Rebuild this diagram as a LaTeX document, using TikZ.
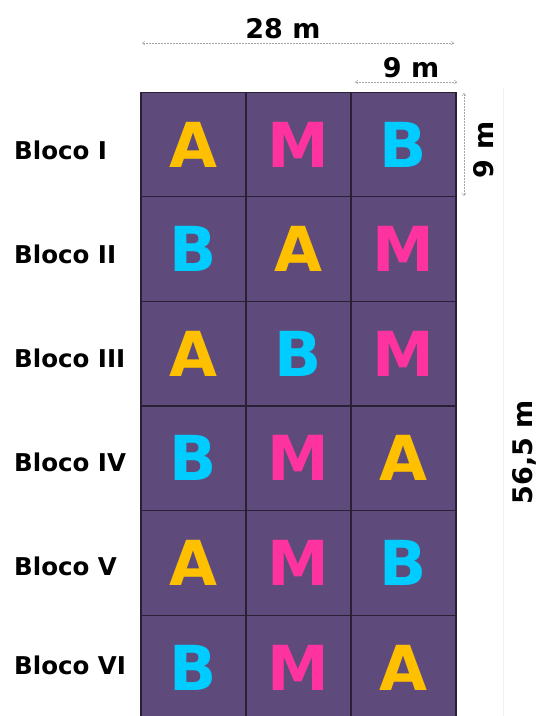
\documentclass[tikz,border=0pt]{standalone}
\usepackage{fontspec}
\setmainfont{DejaVu Sans}
\newfontfamily\boldfont{DejaVu Sans Bold}
\usetikzlibrary{arrows.meta}
\definecolor{plotbg}{HTML}{5F4B7B}
\definecolor{gridline}{HTML}{2A2036}
\definecolor{letA}{HTML}{FFC000}
\definecolor{letM}{HTML}{FF33A0}
\definecolor{letB}{HTML}{00CCFF}
\newcommand\plotlet[3]{%
  \node[bigletter,text=#3] (l-#1) at (#1) {#2};}
\begin{document}
\begin{tikzpicture}[x=1pt,y=-1pt,
  cell/.style={draw=gridline,line width=1.3pt,fill=plotbg,minimum width=105pt,minimum height=104.6pt,inner sep=0pt},
  bigletter/.style={font=\boldfont\fontsize{62}{62}\selectfont,inner sep=0pt},
  blocklabel/.style={font=\boldfont\fontsize{24.5}{24.5}\selectfont,anchor=west,inner sep=0pt},
  dimtext/.style={font=\boldfont\fontsize{27}{27}\selectfont,inner sep=0pt},
  dimline/.style={gray!70,line width=0.5pt,densely dotted,{Straight Barb[length=2.5pt,width=4pt]}-{Straight Barb[length=2.5pt,width=4pt]}},
  faint/.style={gray!12,line width=0.8pt}]
\useasboundingbox (0,0) rectangle (540,716);
\clip (0,0) rectangle (540,716);
% cells
\foreach \r/\y in {1/144.5,2/249.1,3/353.7,4/458.3,5/562.9,6/667.5}{
  \foreach \c/\x in {1/193.5,2/298.5,3/403.5}{
    \node[cell] (c\r\c) at (\x,\y) {};
  }
}
% letters
\plotlet{c11}{A}{letA}\plotlet{c12}{M}{letM}\plotlet{c13}{B}{letB}
\plotlet{c21}{B}{letB}\plotlet{c22}{A}{letA}\plotlet{c23}{M}{letM}
\plotlet{c31}{A}{letA}\plotlet{c32}{B}{letB}\plotlet{c33}{M}{letM}
\plotlet{c41}{B}{letB}\plotlet{c42}{M}{letM}\plotlet{c43}{A}{letA}
\plotlet{c51}{A}{letA}\plotlet{c52}{M}{letM}\plotlet{c53}{B}{letB}
\plotlet{c61}{B}{letB}\plotlet{c62}{M}{letM}\plotlet{c63}{A}{letA}
% block labels
\node[blocklabel] (b1) at (14,150) {Bloco I};
\node[blocklabel] (b2) at (14,254) {Bloco II};
\node[blocklabel] (b3) at (14,358) {Bloco III};
\node[blocklabel] (b4) at (14,462) {Bloco IV};
\node[blocklabel] (b5) at (14,566) {Bloco V};
\node[blocklabel] (b6) at (14,665) {Bloco VI};
% dimension 28 m
\coordinate (w1) at (142,43);
\coordinate (w2) at (454,43);
\draw[dimline] (w1) -- (w2);
\node[dimtext] (t28) at (283,29) {28 m};
% dimension 9 m horizontal
\coordinate (h1) at (355,82);
\coordinate (h2) at (457,82);
\draw[dimline] (h1) -- (h2);
\node[dimtext] (t9h) at (411,68) {9 m};
% dimension 9 m vertical
\coordinate (v1) at (464,93);
\coordinate (v2) at (464,196);
\draw[dimline] (v1) -- (v2);
\node[dimtext,rotate=90] (t9v) at (484,150) {9 m};
% dimension 56,5 m (faint)
\coordinate (g1) at (503,88);
\coordinate (g2) at (503,716);
\draw[faint] (g1) -- (g2);
\node[dimtext,rotate=90] (t56) at (524,452) {56,5 m};
\end{tikzpicture}
\end{document}
